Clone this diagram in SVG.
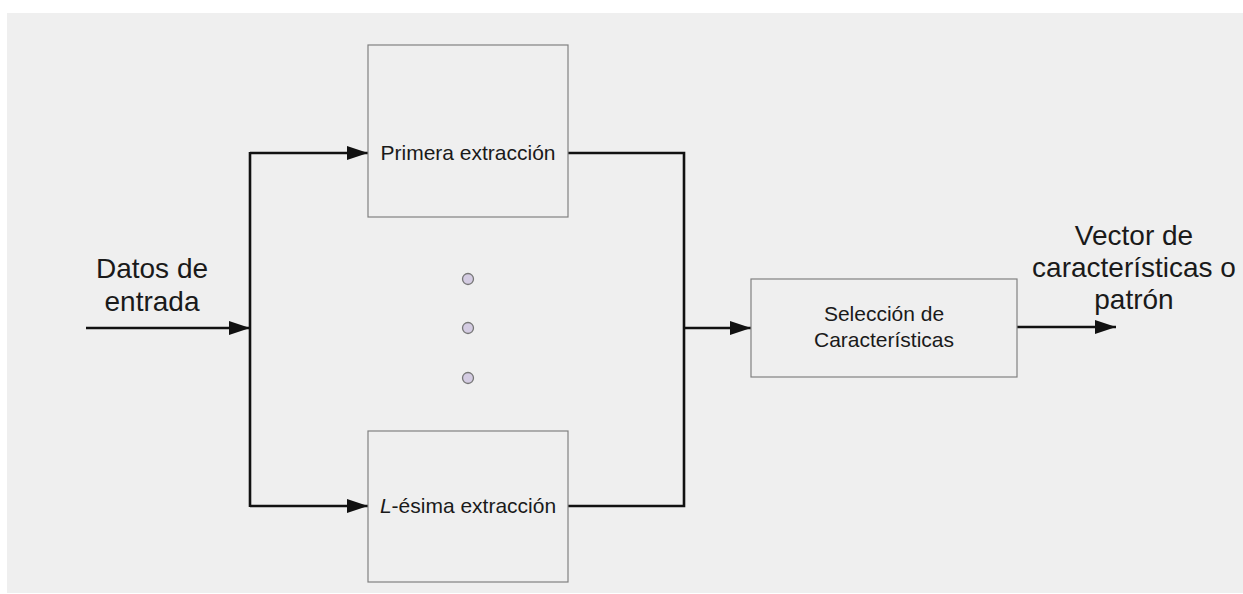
<svg xmlns="http://www.w3.org/2000/svg" width="1243" height="594" viewBox="0 0 1243 594">
  <style>
    .box { fill: #efefef; stroke: #808080; stroke-width: 1.2; }
    .wire { fill: none; stroke: #111; stroke-width: 2.6; }
    .lbl { font-family: "Liberation Sans", Arial, sans-serif; fill: #1a1a1a; text-anchor: middle; }
    .small { font-size: 21px; }
    .big { font-size: 28px; }
    .dot { fill: #d4cce2; stroke: #777777; stroke-width: 1.3; }
  </style>
  <defs>
    <marker id="arrow" markerUnits="userSpaceOnUse" markerWidth="22" markerHeight="16" viewBox="0 0 22 16" refX="21" refY="8" orient="auto">
      <path d="M0,1 L21,8 L0,15 Z" fill="#111"/>
    </marker>
  </defs>

  <!-- backdrop -->
  <rect x="0" y="0" width="1243" height="594" fill="#ffffff"/>
  <rect x="7" y="13" width="1236" height="580" fill="#efefef"/>

  <!-- connectors -->
  <g id="connectors">
    <line class="wire" x1="86" y1="328" x2="250" y2="328" marker-end="url(#arrow)"/>
    <line class="wire" x1="250" y1="152" x2="250" y2="507"/>
    <polyline class="wire" points="250,153 368,153" marker-end="url(#arrow)"/>
    <polyline class="wire" points="250,506 368,506" marker-end="url(#arrow)"/>
    <polyline class="wire" points="568,153 684,153 684,506 568,506"/>
    <line class="wire" x1="684" y1="328" x2="751" y2="328" marker-end="url(#arrow)"/>
    <line class="wire" x1="1017" y1="327" x2="1116" y2="327" marker-end="url(#arrow)"/>
  </g>

  <!-- input label -->
  <g id="input-label">
    <text class="lbl big" x="152" y="278">Datos de</text>
    <text class="lbl big" x="152" y="311">entrada</text>
  </g>

  <!-- first extraction block -->
  <g id="first-extraction">
    <rect class="box" x="368" y="45" width="200" height="172"/>
    <text class="lbl small" x="468" y="160">Primera extracción</text>
  </g>

  <!-- ellipsis between blocks -->
  <g id="ellipsis">
    <circle class="dot" cx="468" cy="279" r="5.5"/>
    <circle class="dot" cx="468" cy="328" r="5.5"/>
    <circle class="dot" cx="468" cy="378" r="5.5"/>
  </g>

  <!-- L-th extraction block -->
  <g id="last-extraction">
    <rect class="box" x="368" y="431" width="200" height="151"/>
    <text class="lbl small" x="468" y="513"><tspan font-style="italic">L</tspan>-ésima extracción</text>
  </g>

  <!-- feature selection block -->
  <g id="feature-selection">
    <rect class="box" x="751" y="279" width="266" height="98"/>
    <text class="lbl small" x="884" y="321">Selección de</text>
    <text class="lbl small" x="884" y="347">Características</text>
  </g>

  <!-- output label -->
  <g id="output-label">
    <text class="lbl big" x="1134" y="245">Vector de</text>
    <text class="lbl big" x="1134" y="277">características o</text>
    <text class="lbl big" x="1134" y="309">patrón</text>
  </g>
</svg>
